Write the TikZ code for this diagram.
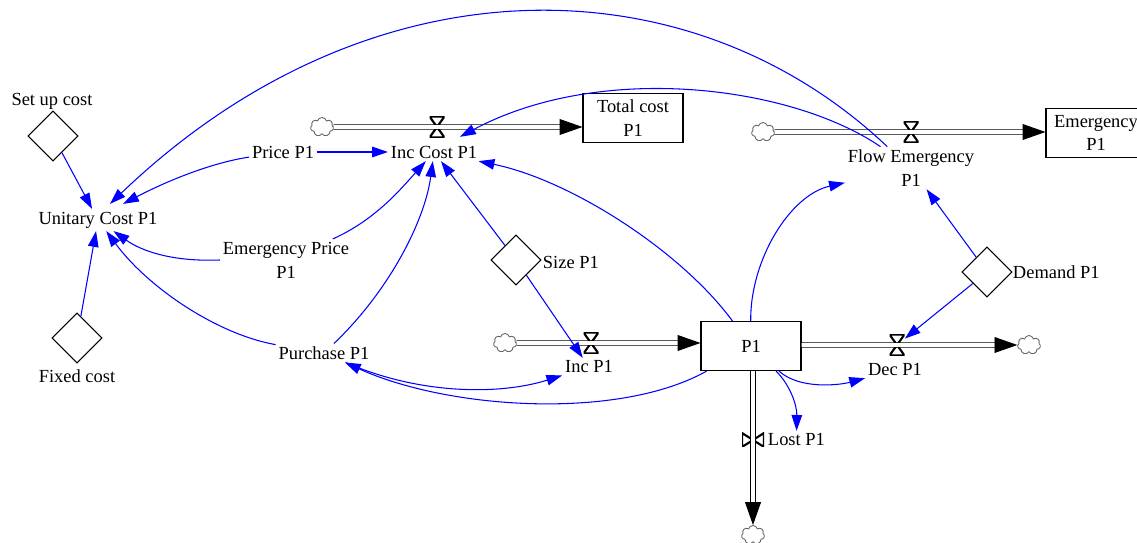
\documentclass[tikz,border=0pt]{standalone}
\usepackage{fontspec}
\setmainfont{Liberation Serif}
\usetikzlibrary{arrows.meta,shapes.geometric,shapes.symbols}

\tikzset{
  every node/.style={font=\fontsize{10.5}{13.6}\selectfont},
  aux/.style={inner sep=1.5pt, align=center},
  level/.style={draw, line width=0.6pt, minimum width=2cm, minimum height=0.98cm, inner sep=0, align=center},
  const/.style={diamond, draw, line width=0.6pt, minimum width=1cm, minimum height=1cm, inner sep=0},
  cloudy/.style={cloud, cloud puffs=7, cloud ignores aspect, draw=black!60, line width=0.5pt, minimum width=4.6mm, minimum height=3.8mm, inner sep=0},
  valveh/.style={minimum width=3mm, minimum height=4.2mm, inner sep=0,
    path picture={\draw[line width=1.2pt] (path picture bounding box.north west) -- (path picture bounding box.north east) -- (path picture bounding box.south west) -- (path picture bounding box.south east) -- cycle;}},
  valvev/.style={minimum width=4.4mm, minimum height=2.8mm, inner sep=0,
    path picture={\draw[line width=1.2pt] (path picture bounding box.north west) -- (path picture bounding box.south west) -- (path picture bounding box.north east) -- (path picture bounding box.south east) -- cycle;}},
  pipe/.style={draw, line width=0.55pt, double=white, double distance=2pt, -{Triangle[length=13pt,width=9pt]}},
  link/.style={blue, line width=0.6pt, -{Triangle[length=9pt,width=6pt]}}
}

\begin{document}
\begin{tikzpicture}[x=0.02cm, y=-0.02cm]
\useasboundingbox (0,0) rectangle (1137,543);
% stocks
\node[level] (total) at (633,118) {Total cost\\P1};
\node[level] (emg) at (1096,133) {Emergency\\P1};
\node[level] (p1) at (751,346) {P1};
% clouds
\node[cloudy] (cl1) at (322,127) {};
\node[cloudy] (cl2) at (763,132) {};
\node[cloudy] (cl3) at (505,343) {};
\node[cloudy] (cl4) at (1029,345) {};
\node[cloudy] (cl5) at (753,535) {};
% valves
\node[valveh] (vcost) at (437,127) {};
\node[valveh] (vemg) at (911,132) {};
\node[valveh] (vinc) at (591,343) {};
\node[valveh] (vdec) at (897,345) {};
\node[valvev] (vlost) at (753,440) {};
% pipes
\draw[pipe] (cl1) -- (cl1 -| total.west);
\draw[pipe] (cl2) -- (cl2 -| emg.west);
\draw[pipe] (cl3) -- (cl3 -| p1.west);
\draw[pipe] (p1.east |- vdec) -- (cl4);
\draw[pipe] (p1.south -| vlost) -- (cl5);
% variables
\node[aux] (unitcost) at (98,220) {Unitary Cost P1};
\node[aux] (setuplbl) at (52,101) {Set up cost};
\node[const] (setup) at (53,136) {};
\node[const] (fixed) at (77,338) {};
\node[aux] (fixedlbl) at (77,376) {Fixed cost};
\node[aux] (price) at (283,152) {Price P1};
\node[aux] (inccost) at (434,152) {Inc Cost P1};
\node[aux] (emgprice) at (286,260) {Emergency Price\\P1};
\node[aux] (purchase) at (324,353) {Purchase P1};
\node[const] (size) at (516,260) {};
\node[aux, anchor=west] (sizelbl) at (540,262) {Size P1};
\node[aux] (incp) at (589,367) {Inc P1};
\node[aux] (flowemg) at (911,168) {Flow Emergency\\P1};
\node[const] (demand) at (987,272) {};
\node[aux, anchor=west] (demandlbl) at (1010,272) {Demand P1};
\node[aux] (decp) at (895,370) {Dec P1};
\node[aux, anchor=west] (lostp) at (765,440) {Lost P1};
% links
\draw[link] (setup) -- (unitcost);
\draw[link] (fixed) -- (unitcost);
\draw[link] (flowemg.138) .. controls (690,-40) and (370,-45) .. ([shift={(12,-5)}]unitcost.north);
\draw[link] (price) .. controls (210,163) and (165,182) .. ([shift={(25,-5)}]unitcost.north);
\draw[link] (price) -- (inccost);
\draw[link] (emgprice.west) .. controls (170,262) and (140,250) .. (unitcost);
\draw[link] (purchase) .. controls (220,335) and (150,290) .. (unitcost);
\draw[link] (emgprice) .. controls (375,220) and (400,190) .. (inccost);
\draw[link] (purchase) .. controls (390,290) and (425,220) .. (inccost);
\draw[link] (size) -- (inccost);
\draw[link] (p1) .. controls (680,250) and (570,180) .. (inccost);
\draw[link] (flowemg.145) .. controls (790,85) and (600,62) .. ([shift={(26,-6)}]inccost.north);
\draw[link] (size) -- (incp);
\draw[link] (purchase) .. controls (420,395) and (500,395) .. (incp);
\draw[link] (p1) .. controls (620,420) and (450,410) .. (purchase);
\draw[link] (p1) .. controls (750,260) and (790,195) .. (flowemg);
\draw[link] (demand) -- (flowemg);
\draw[link] (demand) -- (vdec);
\draw[link] (p1) .. controls (800,390) and (840,385) .. (decp);
\draw[link] (p1) .. controls (790,385) and (797,405) .. (lostp);
\end{tikzpicture}
\end{document}
